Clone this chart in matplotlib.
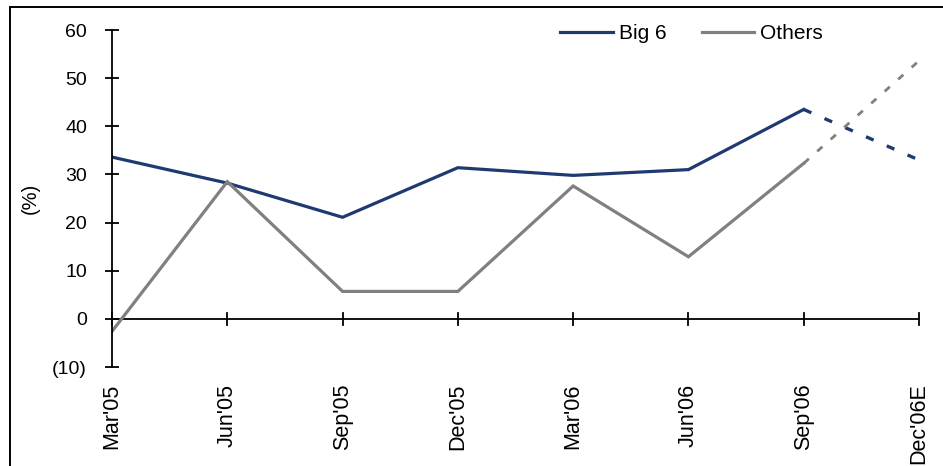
import numpy as np
import matplotlib.pyplot as plt
from matplotlib.patches import Rectangle

plt.rcParams['font.family'] = ['Liberation Sans', 'DejaVu Sans']

quarters = ["Mar'05", "Jun'05", "Sep'05", "Dec'05", "Mar'06", "Jun'06", "Sep'06", "Dec'06E"]
big6 = [33.6, 28.2, 21.1, 31.4, 29.8, 31.0, 43.5, 33.0]
others = [-2.6, 28.5, 5.7, 5.7, 27.6, 12.9, 32.3, 53.6]
n_actual = 7  # last point is an estimate

navy = '#1f3a70'
grey = '#808080'

W, H = 943, 466
fig = plt.figure(figsize=(W / 100, H / 100), dpi=100)
ax = fig.add_axes([112 / W, 1 - 367 / H, (919 - 112) / W, (367 - 30) / H])

x = np.arange(len(quarters))
ax.plot(x[:n_actual], big6[:n_actual], color=navy, lw=2.3, label='Big 6', solid_joinstyle='miter')
ax.plot(x[:n_actual], others[:n_actual], color=grey, lw=2.3, label='Others', solid_joinstyle='miter')
ax.plot(x[n_actual - 1:], big6[n_actual - 1:], color=navy, lw=2.4, ls=(0, (2.5, 4.3)))
ax.plot(x[n_actual - 1:], others[n_actual - 1:], color=grey, lw=2.0, ls=(0, (2.5, 4.0)))

ax.set_xlim(0, len(quarters) - 1)
ax.set_ylim(-10, 60)
ax.set_yticks(range(-10, 61, 10))
ax.set_yticklabels(['(10)'] + [str(v) for v in range(0, 61, 10)])
ax.set_xticks(x)
ax.set_xticklabels(quarters, rotation=90)

for s in ['top', 'right', 'bottom']:
    ax.spines[s].set_visible(False)
ax.spines['left'].set_linewidth(1.3)
ax.axhline(0, color='black', lw=1.3, zorder=1)
ax.patch.set_visible(False)

ax.tick_params(axis='y', direction='inout', length=10, width=1.3, labelsize=14, pad=13)
ax.tick_params(axis='x', direction='inout', length=0, labelsize=15.5, pad=12)
# x ticks drawn on the zero line
for xi in x:
    ax.plot([xi, xi], [-1.2, 1.2], color='black', lw=1.3, clip_on=False, zorder=1)

ax.set_ylabel('(%)', fontsize=14.5, labelpad=9)

ax.legend(loc='upper left', bbox_to_anchor=(550 / W, 1 - 14 / H), bbox_transform=fig.transFigure,
          ncol=2, frameon=False, fontsize=15, handlelength=2.5, handletextpad=0.3,
          columnspacing=1.7, borderpad=0)

fig.add_artist(Rectangle((10 / W, -0.1), 1.2, 1.1 - 7 / H, transform=fig.transFigure,
                         fill=False, edgecolor='black', lw=1.4))

fig.savefig('out.png', dpi=100)
